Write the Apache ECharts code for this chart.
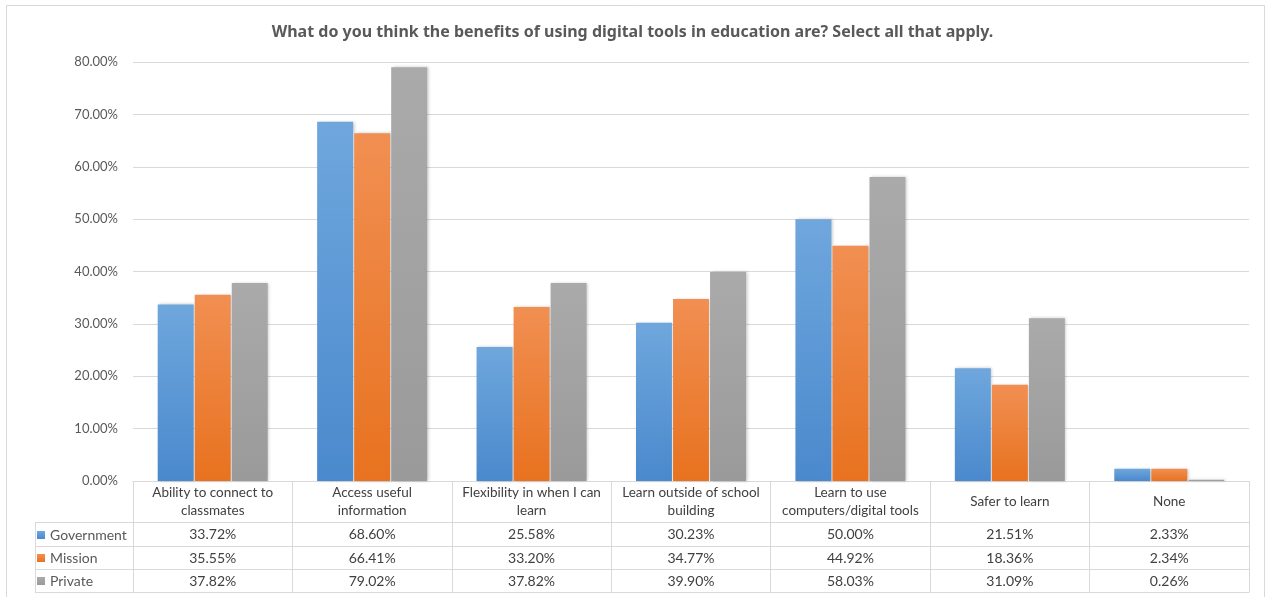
<!DOCTYPE html>
<html>
<head>
<meta charset="utf-8">
<title>Benefits of digital tools in education</title>
<script src="https://cdn.jsdelivr.net/npm/echarts@6/dist/echarts.min.js"></script>
<style>
  html, body { margin: 0; padding: 0; background: #fff; }
  #chart { width: 1265px; height: 597px; }
</style>
</head>
<body>
<div id="chart"></div>
<script>
// Survey answers by school type (share of respondents, %)
const categories = [
  'Ability to connect to\nclassmates',
  'Access useful\ninformation',
  'Flexibility in when I can\nlearn',
  'Learn outside of school\nbuilding',
  'Learn to use\ncomputers/digital tools',
  'Safer to learn',
  'None'
];
const seriesNames = ['Government', 'Mission', 'Private'];
const government = [33.72, 68.60, 25.58, 30.23, 50.00, 21.51, 2.33];
const mission    = [35.55, 66.41, 33.20, 34.77, 44.92, 18.36, 2.34];
const privateSch = [37.82, 79.02, 37.82, 39.90, 58.03, 31.09, 0.26];
const yTicks = { min: 0, max: 80, interval: 10 };

const titleText = 'What do you think the benefits of using digital tools in education are? Select all that apply.';

// Layout
const W = 1265, H = 597;
const GRID = { left: 133, right: 16, top: 62, bottom: 116 };
const AXIS_Y = H - GRID.bottom;          // y of the 0% line / table top
const ROW_OFFSETS = [41, 65, 88, 111];    // table row lines below the axis
const LEGEND_LEFT = 35;
const BORDER = '#d9d9d9';
const TEXT = '#595959';
const FONT = 'Lato, "Noto Sans", sans-serif';

const colors = [
  ['#6fa7dd', '#4a89cd'],
  ['#f18f52', '#e8721f'],
  ['#aaaaaa', '#9a9a9a']
];
const seriesData = [government, mission, privateSch];

const pct = v => v.toFixed(2) + '%';

function grad(c) {
  return new echarts.graphic.LinearGradient(0, 0, 0, 1, [
    { offset: 0, color: c[0] },
    { offset: 1, color: c[1] }
  ]);
}

const chart = echarts.init(document.getElementById('chart'), null, { renderer: 'canvas' });

// Table value rows are extra category axes sharing the grid, stacked below it
const valueAxes = seriesData.map((vals, i) => ({
  type: 'category',
  gridIndex: 0,
  position: 'bottom',
  offset: ROW_OFFSETS[i],
  data: vals.map(pct),
  axisLine: { show: true, lineStyle: { color: BORDER, width: 1 } },
  axisTick: { show: false },
  axisLabel: {
    interval: 0, margin: 12, verticalAlign: 'middle',
    color: '#404040', fontSize: 14, fontFamily: FONT
  },
  splitLine: { show: false }
}));

const option = {
  backgroundColor: '#fff',
  animation: false,
  title: {
    text: titleText,
    left: 'center',
    top: 19,
    textStyle: { color: TEXT, fontSize: 16, fontWeight: 'bold', fontFamily: '"Noto Sans", sans-serif' }
  },
  legend: {
    data: seriesNames,
    orient: 'vertical',
    left: LEGEND_LEFT + 2,
    top: AXIS_Y + ROW_OFFSETS[0] + 5,
    padding: 0,
    itemWidth: 8,
    itemHeight: 8,
    itemGap: 7,
    icon: 'rect',
    selectedMode: false,
    textStyle: { color: TEXT, fontSize: 14, fontFamily: FONT, lineHeight: 16 }
  },
  grid: { left: GRID.left, right: GRID.right, top: GRID.top, bottom: GRID.bottom, containLabel: false },
  xAxis: [
    {
      type: 'category',
      gridIndex: 0,
      position: 'bottom',
      data: categories,
      axisLine: { show: true, lineStyle: { color: BORDER, width: 1 } },
      axisTick: { show: true, interval: 0, length: ROW_OFFSETS[3], lineStyle: { color: BORDER } },
      axisLabel: {
        interval: 0, margin: 21, verticalAlign: 'middle', lineHeight: 18,
        color: '#404040', fontSize: 13.5, fontFamily: FONT
      },
      splitLine: { show: false }
    },
    ...valueAxes,
    {
      type: 'category',
      gridIndex: 0,
      position: 'bottom',
      offset: ROW_OFFSETS[3],
      data: categories,
      axisLine: { show: true, lineStyle: { color: BORDER, width: 1 } },
      axisTick: { show: false },
      axisLabel: { show: false },
      splitLine: { show: false }
    }
  ],
  yAxis: {
    type: 'value',
    min: yTicks.min,
    max: yTicks.max,
    interval: yTicks.interval,
    axisLine: { show: false },
    axisTick: { show: false },
    axisLabel: {
      margin: 15,
      color: TEXT, fontSize: 13, fontFamily: FONT,
      formatter: v => v.toFixed(2) + '%'
    },
    splitLine: { lineStyle: { color: BORDER, width: 1 } }
  },
  series: seriesNames.map((name, i) => ({
    name,
    type: 'bar',
    xAxisIndex: 0,
    data: seriesData[i],
    barGap: '3%',
    barCategoryGap: '31%',
    itemStyle: {
      color: grad(colors[i]),
      shadowColor: 'rgba(0,0,0,0.22)',
      shadowBlur: 3,
      shadowOffsetX: 1.5,
      shadowOffsetY: 0
    }
  })),
  color: colors.map(c => c[1]),
  graphic: [
    // outer chart frame
    {
      type: 'rect',
      shape: { x: 6.5, y: 5.5, width: W - 7, height: H },
      style: { fill: null, stroke: BORDER, lineWidth: 1 },
      silent: true
    },
    // legend column of the data table
    {
      type: 'group',
      silent: true,
      children: [
        {
          type: 'line',
          shape: { x1: LEGEND_LEFT + 0.5, y1: AXIS_Y + ROW_OFFSETS[0], x2: LEGEND_LEFT + 0.5, y2: AXIS_Y + ROW_OFFSETS[3] },
          style: { stroke: BORDER, lineWidth: 1 }
        }
      ].concat(ROW_OFFSETS.map(o => ({
        type: 'line',
        shape: { x1: LEGEND_LEFT, y1: AXIS_Y + o + 0.5, x2: GRID.left, y2: AXIS_Y + o + 0.5 },
        style: { stroke: BORDER, lineWidth: 1 }
      })))
    }
  ]
};

chart.setOption(option);
</script>
</body>
</html>
